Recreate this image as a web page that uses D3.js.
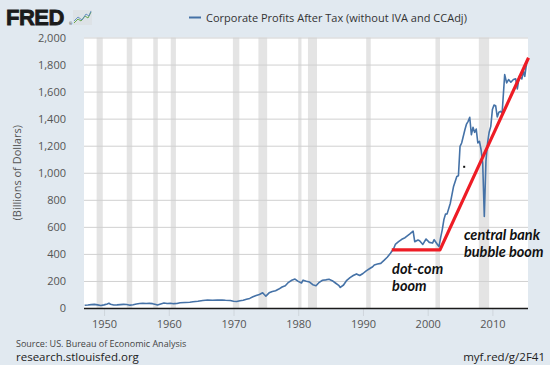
<!DOCTYPE html>
<html>
<head>
<meta charset="utf-8">
<script src="https://cdn.jsdelivr.net/npm/d3@7"></script>
<style>
  html, body { margin: 0; padding: 0; background: #e1e9f0; }
  svg { display: block; }
</style>
</head>
<body>
<div id="chart"></div>
<script>
// Corporate Profits After Tax (without IVA and CCAdj), billions of dollars
const dates = [
  1947.0, 1947.5, 1948.0, 1948.5, 1949.0, 1949.5, 1950.0, 1950.5, 1950.75, 1951.0,
  1951.5, 1952.0, 1952.5, 1953.0, 1953.5, 1954.0, 1954.5, 1955.0, 1955.5, 1956.0,
  1956.5, 1957.0, 1957.5, 1958.0, 1958.25, 1958.75, 1959.25, 1959.75, 1960.25, 1960.75,
  1961.25, 1961.75, 1962.5, 1963.25, 1963.75, 1964.5, 1965.25, 1966.0, 1966.75, 1967.5,
  1968.25, 1968.75, 1969.5, 1970.0, 1970.5, 1971.0, 1971.5, 1972.0, 1972.5, 1973.0,
  1973.5, 1974.0, 1974.5, 1974.75, 1975.0, 1975.5, 1976.0, 1976.5, 1977.0, 1977.5,
  1978.0, 1978.5, 1979.0, 1979.5, 1980.0, 1980.5, 1980.75, 1981.25, 1981.75, 1982.25,
  1982.75, 1983.25, 1983.75, 1984.25, 1984.75, 1985.25, 1985.75, 1986.25, 1986.5, 1987.0,
  1987.5, 1988.0, 1988.5, 1989.0, 1989.5, 1990.0, 1990.5, 1991.0, 1991.5, 1991.75,
  1992.25, 1992.75, 1993.25, 1993.75, 1994.25, 1994.75, 1995.0, 1995.5, 1996.0, 1996.5,
  1996.75, 1997.25, 1997.75, 1998.0, 1998.5, 1998.75, 1999.25, 1999.75, 2000.25, 2000.75,
  2001.0, 2001.5, 2001.75, 2002.0, 2002.25, 2002.5, 2002.75, 2003.0, 2003.5, 2004.0,
  2004.5, 2004.75, 2005.0, 2005.25, 2005.75, 2006.0, 2006.25, 2006.5, 2006.75, 2007.0,
  2007.25, 2007.5, 2007.75, 2008.0, 2008.25, 2008.5, 2008.75, 2009.0, 2009.25, 2009.5,
  2009.75, 2010.0, 2010.25, 2010.5, 2010.75, 2011.0, 2011.25, 2011.5, 2011.9, 2012.2,
  2012.5, 2012.85, 2013.25, 2013.6, 2013.85, 2014.15, 2014.55, 2014.8, 2015.0, 2015.25,
  2015.45
];
const profits = [
  20, 22, 25, 27, 23, 19, 23, 30, 35, 28,
  22, 23, 25, 27, 26, 21, 24, 30, 33, 34,
  33, 34, 32, 26, 22, 30, 37, 33, 35, 32,
  33, 39, 41, 43, 46, 50, 55, 59, 57, 58,
  59, 57, 55, 50, 48, 53, 57, 64, 71, 83,
  92, 100, 113, 100, 88, 112, 122, 128, 140, 155,
  165, 190, 205, 214, 197, 185, 206, 198, 192, 172,
  165, 190, 205, 208, 212, 202, 185, 168, 152, 170,
  205, 225, 240, 252, 240, 255, 275, 290, 305, 318,
  325, 330, 352, 375, 405, 440, 470, 490, 508, 520,
  530, 548, 568, 490, 503, 498, 470, 510, 485, 480,
  505, 470, 454, 520, 578, 652, 694, 696, 775, 899,
  973, 978, 1195, 1220, 1318, 1360, 1380, 1410, 1281, 1336,
  1299, 1323, 1220, 1232, 1170, 1072, 676, 1084, 1220, 1300,
  1343, 1467, 1501, 1496, 1413, 1447, 1454, 1440, 1726, 1664,
  1689, 1669, 1689, 1694, 1620, 1713, 1694, 1750, 1713, 1800,
  1837
];

// NBER recessions (start, end)
const recessionStart = [1948.85, 1953.5, 1957.6, 1960.3, 1969.9, 1973.85, 1980.0, 1981.5, 1990.5, 2001.2, 2007.9];
const recessionEnd   = [1949.8, 1954.35, 1958.3, 1961.1, 1970.9, 1975.2, 1980.5, 1982.9, 1991.2, 2001.9, 2009.5];

const yTicks = [0, 200, 400, 600, 800, 1000, 1200, 1400, 1600, 1800, 2000];
const xTicks = [1950, 1960, 1970, 1980, 1990, 2000, 2010];

// hand-drawn red annotation
const trendYears = [1994.45, 2001.9, 2015.58];
const trendValues = [430, 430, 1850];
const notes = [
  { lines: ['dot-com', 'boom'], year: 1994.5, value: 252 },
  { lines: ['central bank', 'bubble boom'], year: 2005.6, value: 502 }
];
const strayDot = [2005.64, 1044];

const width = 550;
const height = 365;
const plot = { left: 84, right: 528, top: 37.5, bottom: 308 };

const x = d3.scaleLinear().domain([1946.9, 2015.5]).range([plot.left, plot.right]);
const y = d3.scaleLinear().domain([0, 2000]).range([plot.bottom, plot.top]);

const svg = d3.select('#chart')
  .append('svg')
  .attr('width', width)
  .attr('height', height)
  .attr('font-family', '"Open Sans", sans-serif');

svg.append('rect')
  .attr('width', width)
  .attr('height', height)
  .attr('fill', '#e1e9f0');

// plot background
svg.append('rect')
  .attr('x', plot.left)
  .attr('y', plot.top)
  .attr('width', plot.right - plot.left)
  .attr('height', plot.bottom - plot.top)
  .attr('fill', '#ffffff');

// recession shading
svg.append('g')
  .selectAll('rect')
  .data(recessionStart)
  .join('rect')
  .attr('x', (d) => x(d))
  .attr('y', plot.top)
  .attr('width', (d, i) => x(recessionEnd[i]) - x(d))
  .attr('height', plot.bottom - plot.top)
  .attr('fill', '#e4e4e4');

// grid + y labels
const yAxis = d3.axisLeft(y)
  .tickValues(yTicks)
  .tickSize(-(plot.right - plot.left))
  .tickPadding(18)
  .tickFormat(d3.format(','));

svg.append('g')
  .attr('transform', `translate(${plot.left},0)`)
  .call(yAxis)
  .call((g) => g.select('.domain').remove())
  .call((g) => g.selectAll('.tick line').attr('stroke', '#d0d0d0'))
  .call((g) => g.selectAll('.tick text')
    .attr('fill', '#555')
    .attr('font-size', 11)
    .attr('font-family', '"Open Sans", sans-serif'));

svg.append('text')
  .attr('transform', `translate(17,${(plot.top + plot.bottom) / 2}) rotate(-90)`)
  .attr('text-anchor', 'middle')
  .attr('dy', '0.35em')
  .attr('fill', '#555')
  .attr('font-size', 11)
  .text('(Billions of Dollars)');

// x axis
const xAxis = d3.axisBottom(x)
  .tickValues(xTicks)
  .tickSize(8)
  .tickPadding(4)
  .tickFormat(d3.format('d'));

svg.append('g')
  .attr('transform', `translate(0,${plot.bottom})`)
  .call(xAxis)
  .call((g) => g.select('.domain').remove())
  .call((g) => g.selectAll('.tick line').attr('stroke', '#cfd6dc'))
  .call((g) => g.selectAll('.tick text')
    .attr('fill', '#555')
    .attr('font-size', 11)
    .attr('font-family', '"Open Sans", sans-serif'));

svg.append('line')
  .attr('x1', plot.left)
  .attr('x2', plot.right)
  .attr('y1', plot.bottom + 0.5)
  .attr('y2', plot.bottom + 0.5)
  .attr('stroke', '#1a1a1a')
  .attr('stroke-width', 1.6);

// series
const line = d3.line()
  .x((d) => x(d[0]))
  .y((d) => y(d[1]));

svg.append('path')
  .datum(dates.map((d, i) => [d, profits[i]]))
  .attr('d', line)
  .attr('fill', 'none')
  .attr('stroke', '#4572a7')
  .attr('stroke-width', 1.6)
  .attr('stroke-linejoin', 'round');

// red annotation
svg.append('path')
  .datum(trendYears.map((d, i) => [d, trendValues[i]]))
  .attr('d', line)
  .attr('fill', 'none')
  .attr('stroke', '#ee1c25')
  .attr('stroke-width', 3.2)
  .attr('stroke-linejoin', 'round');

svg.append('rect')
  .attr('x', x(strayDot[0]) - 1)
  .attr('y', y(strayDot[1]) - 1)
  .attr('width', 2)
  .attr('height', 2)
  .attr('fill', '#111');

notes.forEach((note) => {
  const t = svg.append('text')
    .attr('x', x(note.year))
    .attr('y', y(note.value))
    .attr('font-family', 'Lato, sans-serif')
    .attr('font-size', 14.5)
    .attr('font-weight', 'bold')
    .attr('font-style', 'italic')
    .attr('fill', '#111');
  note.lines.forEach((s, i) => {
    t.append('tspan')
      .attr('x', x(note.year))
      .attr('dy', i === 0 ? 0 : 17)
      .text(s);
  });
});

// legend
svg.append('line')
  .attr('x1', 189)
  .attr('x2', 201)
  .attr('y1', 17.5)
  .attr('y2', 17.5)
  .attr('stroke', '#4572a7')
  .attr('stroke-width', 2);

svg.append('text')
  .attr('x', 206)
  .attr('y', 21.5)
  .attr('fill', '#333')
  .attr('font-size', 11)
  .text('Corporate Profits After Tax (without IVA and CCAdj)');

// FRED logo
svg.append('text')
  .attr('x', 6)
  .attr('y', 25)
  .attr('font-family', '"Liberation Sans", Arial, sans-serif')
  .attr('font-weight', 900)
  .attr('font-size', 22)
  .attr('letter-spacing', -0.5)
  .attr('fill', '#1b1b1b')
  .attr('stroke', '#1b1b1b')
  .attr('stroke-width', 0.8)
  .text('FRED');

svg.append('text')
  .attr('x', 69)
  .attr('y', 25)
  .attr('font-size', 4)
  .attr('fill', '#1b1b1b')
  .text('®');

const icon = svg.append('g').attr('transform', 'translate(73,10)');
icon.append('rect')
  .attr('width', 19)
  .attr('height', 15)
  .attr('fill', '#dde2e6');
icon.append('path')
  .attr('d', 'M1,13 L5,9 L8,11 L12,6 L15,8 L18,2')
  .attr('fill', 'none')
  .attr('stroke', '#6aa84f')
  .attr('stroke-width', 1);
icon.append('path')
  .attr('d', 'M1,11 L5,7 L9,10 L13,4 L16,6 L18,1')
  .attr('fill', 'none')
  .attr('stroke', '#4f81bd')
  .attr('stroke-width', 0.8);

// footer
svg.append('text')
  .attr('x', 16)
  .attr('y', 347)
  .attr('fill', '#444')
  .attr('font-size', 9)
  .text('Source: US. Bureau of Economic Analysis');

svg.append('text')
  .attr('x', 16)
  .attr('y', 361)
  .attr('fill', '#222')
  .attr('font-size', 11.5)
  .text('research.stlouisfed.org');

svg.append('text')
  .attr('x', 545)
  .attr('y', 361)
  .attr('text-anchor', 'end')
  .attr('fill', '#222')
  .attr('font-size', 11.5)
  .text('myf.red/g/2F41');
</script>
</body>
</html>
